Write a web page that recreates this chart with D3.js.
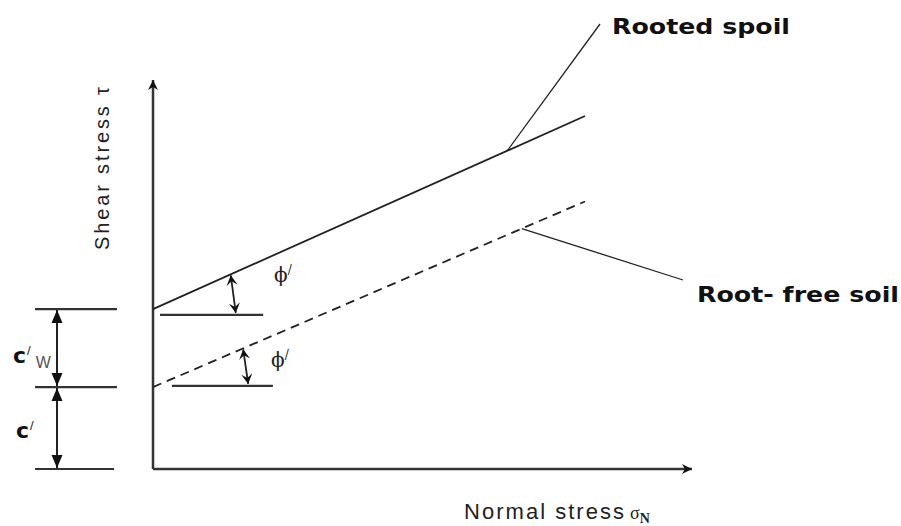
<!DOCTYPE html>
<html>
<head>
<meta charset="utf-8">
<script src="https://cdn.jsdelivr.net/npm/d3@7"></script>
<style>
  body { margin: 0; background: #fff; }
  svg { display: block; }
  .lbl { font-family: "Liberation Sans", Arial, sans-serif; fill: #222; }
  .bold { font-family: "DejaVu Sans", Verdana, sans-serif; font-weight: bold; fill: #111; }
</style>
</head>
<body>
<div id="chart"></div>
<script>
// envelope data (abstract units, 0..100 on both axes)
var envelopeNames = ['Rooted spoil', 'Root- free soil'];
var envelopeIntercept = [41, 21];      // c' + c'w , c'
var envelopeEndX = [80, 80];
var envelopeEndY = [90.5, 68.6];
var envelopeDash = [null, '9,6'];

// cohesion reference levels on the left
var cohesionLevels = [0, 21, 41];

// friction angle markers
var angleX = [14.4, 16.7];
var angleBaseY = [39.5, 21.3];
var angleBaseFrom = [1.3, 3.5];
var angleBaseTo = [20.4, 22.2];

// leader points on the envelopes
var leaderX = [65.6, 68.3];

var width = 901, height = 526;

var svg = d3.select('#chart').append('svg')
    .attr('width', width)
    .attr('height', height);

var x = d3.scaleLinear().domain([0, 100]).range([153, 693]);
var y = d3.scaleLinear().domain([0, 100]).range([469, 79]);

var ink = '#222';

var defs = svg.append('defs');
defs.append('marker')
    .attr('id', 'head')
    .attr('viewBox', '-14 -6 15 12')
    .attr('refX', 0).attr('refY', 0)
    .attr('markerWidth', 15).attr('markerHeight', 12)
    .attr('markerUnits', 'userSpaceOnUse')
    .attr('orient', 'auto-start-reverse')
    .append('path')
    .attr('d', 'M0,0 L-13,-5.5 L-13,5.5 Z')
    .attr('fill', '#111');
defs.append('marker')
    .attr('id', 'axisHead')
    .attr('viewBox', '-11 -6 12 12')
    .attr('refX', 0).attr('refY', 0)
    .attr('markerWidth', 12).attr('markerHeight', 12)
    .attr('markerUnits', 'userSpaceOnUse')
    .attr('orient', 'auto')
    .append('path')
    .attr('d', 'M0,0 L-10,-5 L-7,0 L-10,5 Z')
    .attr('fill', '#111');
defs.append('marker')
    .attr('id', 'small')
    .attr('viewBox', '-11 -6 12 12')
    .attr('refX', 0).attr('refY', 0)
    .attr('markerWidth', 12).attr('markerHeight', 12)
    .attr('markerUnits', 'userSpaceOnUse')
    .attr('orient', 'auto-start-reverse')
    .append('path')
    .attr('d', 'M0,0 L-10,-5.5 L-6,0 L-10,5.5 Z')
    .attr('fill', '#111');

// axes
svg.append('line')
    .attr('x1', x(0)).attr('y1', y(0))
    .attr('x2', x(0)).attr('y2', y(100) + 1)
    .attr('stroke', '#333').attr('stroke-width', 2.5)
    .attr('marker-end', 'url(#axisHead)');
svg.append('line')
    .attr('x1', x(0)).attr('y1', y(0))
    .attr('x2', x(100) - 1).attr('y2', y(0))
    .attr('stroke', '#333').attr('stroke-width', 2.5)
    .attr('marker-end', 'url(#axisHead)');

// envelopes
var line = d3.line().x(d => x(d[0])).y(d => y(d[1]));
envelopeNames.forEach((name, i) => {
    svg.append('path')
        .attr('d', line([[0, envelopeIntercept[i]], [envelopeEndX[i], envelopeEndY[i]]]))
        .attr('fill', 'none')
        .attr('stroke', ink)
        .attr('stroke-width', 1.8)
        .attr('stroke-dasharray', envelopeDash[i]);
});

function envY(i, xv) {
    return envelopeIntercept[i] + (envelopeEndY[i] - envelopeIntercept[i]) * xv / envelopeEndX[i];
}

// cohesion level lines at left
cohesionLevels.forEach(v => {
    svg.append('line')
        .attr('x1', 35).attr('x2', v === 0 ? 114 : 117)
        .attr('y1', y(v)).attr('y2', y(v))
        .attr('stroke', '#333').attr('stroke-width', 2.2);
});

// double arrows between levels
for (var k = 0; k < cohesionLevels.length - 1; k++) {
    svg.append('line')
        .attr('x1', 57).attr('x2', 57)
        .attr('y1', y(cohesionLevels[k]) - 1)
        .attr('y2', y(cohesionLevels[k + 1]) + 1)
        .attr('stroke', '#222').attr('stroke-width', 2)
        .attr('marker-start', 'url(#head)')
        .attr('marker-end', 'url(#head)');
}

// cohesion labels
[[13, 363, 'W'], [16, 438, '']].forEach(p => {
    var t = svg.append('text').attr('x', p[0]).attr('y', p[1]);
    t.append('tspan').attr('class', 'bold').style('font-size', '22px').text('c');
    t.append('tspan').attr('class', 'lbl').style('font-size', '13px')
        .attr('dy', -8).attr('dx', 1).text('/');
    if (p[2]) {
        t.append('tspan').attr('class', 'lbl').style('font-size', '16px')
            .style('fill', '#555')
            .attr('dy', 13).attr('dx', 5).text(p[2]);
    }
});

// friction angle markers
angleX.forEach((ax, i) => {
    svg.append('line')
        .attr('x1', x(angleBaseFrom[i])).attr('x2', x(angleBaseTo[i]))
        .attr('y1', y(angleBaseY[i])).attr('y2', y(angleBaseY[i]))
        .attr('stroke', '#333').attr('stroke-width', 2.2);
    svg.append('line')
        .attr('x1', x(ax)).attr('y1', y(envY(i, ax)) + 1)
        .attr('x2', x(ax) + 5).attr('y2', y(angleBaseY[i]) - 2)
        .attr('stroke', '#222').attr('stroke-width', 1.8)
        .attr('marker-start', 'url(#small)')
        .attr('marker-end', 'url(#small)');
    var t = svg.append('text')
        .attr('x', i === 0 ? 274 : 271)
        .attr('y', i === 0 ? 282 : 367)
        .attr('class', 'lbl')
        .style('font-family', '"DejaVu Serif", serif')
        .style('font-size', '20px');
    t.append('tspan').text('\u03d5');
    t.append('tspan').style('font-size', '12px').attr('dy', -8).text('/');
});

// leader lines and names
var labelAnchor = [[600, 24], [683, 280]];
var labelPos = [[612, 34], [697, 302]];
var labelLen = [178, 202];
envelopeNames.forEach((name, i) => {
    svg.append('line')
        .attr('x1', x(leaderX[i])).attr('y1', y(envY(i, leaderX[i])))
        .attr('x2', labelAnchor[i][0]).attr('y2', labelAnchor[i][1])
        .attr('stroke', ink).attr('stroke-width', 1.3);
    svg.append('text')
        .attr('x', labelPos[i][0]).attr('y', labelPos[i][1])
        .attr('class', 'bold')
        .attr('textLength', labelLen[i])
        .attr('lengthAdjust', 'spacingAndGlyphs')
        .style('font-size', '22px')
        .text(name);
});

// axis titles
var xt = svg.append('text')
    .attr('x', 464).attr('y', 519)
    .attr('class', 'lbl')
    .style('font-size', '22px');
xt.append('tspan').attr('textLength', 160).text('Normal stress');
xt.append('tspan').attr('dx', 4)
    .style('font-family', '"Liberation Serif", serif').style('font-size', '18px').text('\u03c3');
xt.append('tspan').attr('dy', 4)
    .style('font-family', '"Liberation Serif", serif').style('font-size', '14px').style('font-weight', 'bold').text('N');

svg.append('text')
    .attr('transform', 'translate(109,250) rotate(-90)')
    .attr('class', 'lbl')
    .attr('textLength', 163)
    .style('font-size', '20px')
    .text('Shear stress \u03c4');
</script>
</body>
</html>
